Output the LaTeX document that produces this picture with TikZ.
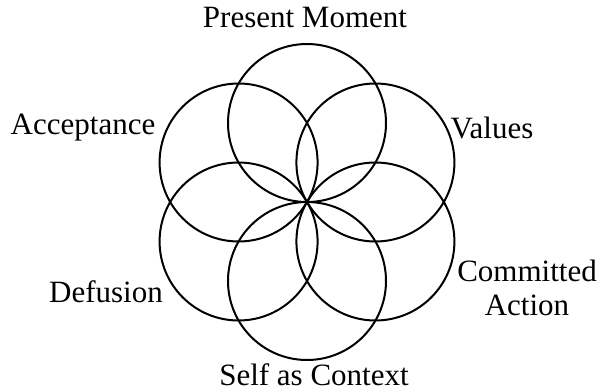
\documentclass[tikz,border=0pt]{standalone}
\usepackage{fontspec}
\setmainfont{Liberation Serif}
\usetikzlibrary{calc}
\begin{document}
\begin{tikzpicture}[x=1pt,y=-1pt,
  petal/.style={draw=black,line width=2pt},
  lbl/.style={font=\fontsize{31}{34}\selectfont,inner sep=0pt,align=center}]
\useasboundingbox (0,0) rectangle (600,391);
\coordinate (c) at (307,202);
\foreach \a in {90,30,-30,-90,210,150}{
  \draw[petal] ($(c)+(\a:79pt)$) circle[radius=79pt];
}
\node[lbl] (pm) at (305,18) {Present Moment};
\node[lbl] (acc) at (83,128) {Acceptance};
\node[lbl] (val) at (492,128) {Values};
\node[lbl] (def) at (106,292) {Defusion};
\node[lbl] (ca) at (527,288) {Committed\\Action};
\node[lbl] (sac) at (314,375) {Self as Context};
\end{tikzpicture}
\end{document}
